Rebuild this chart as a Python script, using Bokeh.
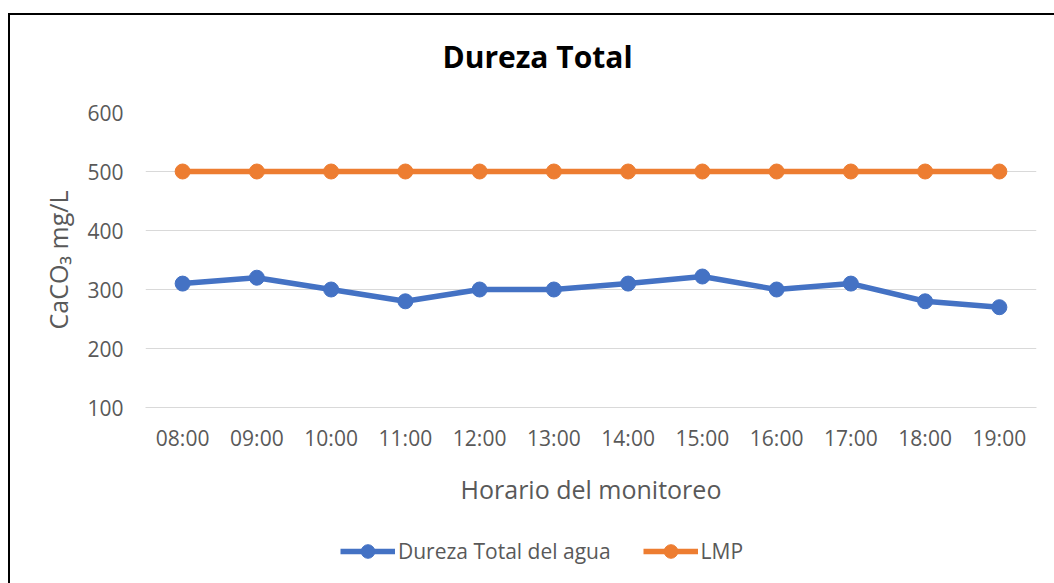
from bokeh.plotting import figure
from bokeh.models import Range1d, FactorRange, FixedTicker, Legend, LegendItem, Label, Column
from bokeh.embed import file_html
from bokeh.resources import INLINE

hours = ["08:00", "09:00", "10:00", "11:00", "12:00", "13:00",
         "14:00", "15:00", "16:00", "17:00", "18:00", "19:00"]
dureza = [310, 320, 300, 280, 300, 300, 310, 322, 300, 310, 280, 270]
lmp = [500, 500, 500, 500, 500, 500, 500, 500, 500, 500, 500, 500]
y_ticks = [100, 200, 300, 400, 500, 600]

title_text = "Dureza Total"
x_label = "Horario del monitoreo"
y_label = "CaCO\u2083 mg/L"
name_dureza = "Dureza Total del agua"
name_lmp = "LMP"

BLUE = "#4472C4"
ORANGE = "#ED7D31"
TEXT = "#595959"
GRID = "#D9D9D9"
FONT = "Open Sans"
FW = 891
BL = 135
BR = 18


def strip_figure(h, x_range, y_range):
    f = figure(frame_width=FW, frame_height=h, output_backend="svg", toolbar_location=None,
               x_range=x_range, y_range=y_range,
               x_axis_location=None, y_axis_location=None,
               min_border_left=BL, min_border_right=BR,
               min_border_top=0, min_border_bottom=0)
    f.grid.visible = False
    f.outline_line_color = None
    f.background_fill_color = "white"
    f.border_fill_color = "white"
    return f


# ---- title strip ----
TH = 77
pt = strip_figure(TH, Range1d(0, FW), Range1d(TH, 0))
pt.add_layout(Label(x=392, y=41, text=title_text, text_font=FONT,
                    text_font_size="30px", text_font_style="bold",
                    text_color="black", text_align="center",
                    text_baseline="alphabetic"))

# ---- main chart ----
p = figure(frame_width=FW, frame_height=295, output_backend="svg", toolbar_location=None,
           x_range=FactorRange(factors=hours, range_padding=0),
           y_range=Range1d(100, 600),
           min_border_left=BL, min_border_right=BR,
           min_border_top=20, min_border_bottom=110)
p.outline_line_color = None
p.background_fill_color = "white"
p.border_fill_color = "white"

p.line(hours, dureza, line_color=BLUE, line_width=5.5)
p.scatter(hours, dureza, size=15, fill_color=BLUE, line_color=BLUE)
p.line(hours, lmp, line_color=ORANGE, line_width=5.5)
p.scatter(hours, lmp, size=15, fill_color=ORANGE, line_color=ORANGE)

p.xgrid.grid_line_color = None
p.ygrid.grid_line_color = GRID
p.ygrid.grid_line_width = 1
p.yaxis.ticker = FixedTicker(ticks=y_ticks)

for ax in (p.xaxis[0], p.yaxis[0]):
    ax.major_tick_line_color = None
    ax.minor_tick_line_color = None
    ax.major_tick_out = 0
    ax.major_tick_in = 0
    ax.major_label_text_font = FONT
    ax.major_label_text_font_size = "21px"
    ax.major_label_text_color = TEXT
    ax.axis_label_text_font = FONT
    ax.axis_label_text_font_size = "25px"
    ax.axis_label_text_font_style = "normal"
    ax.axis_label_text_color = TEXT

p.yaxis.axis_line_color = None
p.xaxis.axis_line_color = GRID
p.xaxis.axis_line_width = 1
p.xaxis.major_label_standoff = 16
p.yaxis.major_label_standoff = 22
p.xaxis.axis_label = x_label
p.yaxis.axis_label = y_label
p.xaxis.axis_label_standoff = 17
p.yaxis.axis_label_standoff = 9

# ---- legend strip (legend keys only; its renderers are hidden) ----
LH = 66
pl = strip_figure(LH, FactorRange(factors=hours, range_padding=0), Range1d(100, 600))
l1 = pl.line(hours, dureza, line_color=BLUE, line_width=5.5, visible=False)
m1 = pl.scatter(hours, dureza, size=15, fill_color=BLUE, line_color=BLUE, visible=False)
l2 = pl.line(hours, lmp, line_color=ORANGE, line_width=5.5, visible=False)
m2 = pl.scatter(hours, lmp, size=15, fill_color=ORANGE, line_color=ORANGE, visible=False)
legend = Legend(items=[LegendItem(label=name_dureza, renderers=[l1, m1]),
                       LegendItem(label=name_lmp, renderers=[l2, m2])],
                location=(195, 15), orientation="horizontal",
                glyph_width=55, glyph_height=34, label_height=24,
                label_standoff=3, spacing=32,
                padding=0, margin=0, border_line_color=None,
                background_fill_alpha=0, inactive_fill_alpha=0,
                label_text_font=FONT, label_text_font_size="21px",
                label_text_color=TEXT)
pl.add_layout(legend)

layout = Column(children=[pt, p, pl], spacing=0)
layout.styles = {"border-top": "2px solid black", "border-left": "2px solid black"}
layout.margin = (13, 0, 0, 8)

open("out.html", "w").write(file_html(layout, INLINE))
